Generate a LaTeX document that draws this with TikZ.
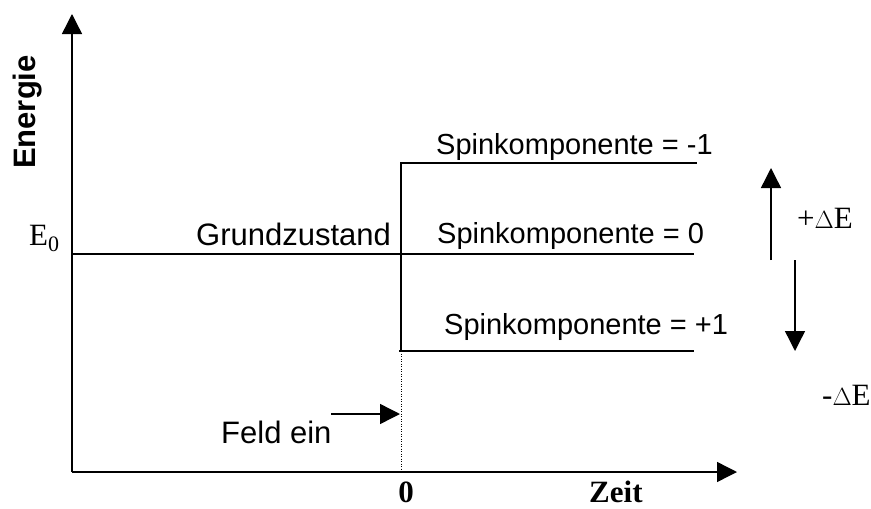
\documentclass[tikz,border=0pt]{standalone}
\usepackage{fontspec}
\setmainfont{Liberation Serif}
\setsansfont{Liberation Sans}
\usetikzlibrary{arrows.meta}
\tikzset{
  axisline/.style={line width=1.4pt, -{Triangle[length=20pt,width=20pt]}},
  levelline/.style={line width=1.4pt},
  arrowline/.style={line width=1.4pt, -{Triangle[length=20pt,width=20pt]}},
  txt/.style={inner sep=0pt, anchor=base west, font=\sffamily\fontsize{29}{33}\selectfont},
  bigtxt/.style={inner sep=0pt, anchor=base west, font=\sffamily\fontsize{31}{35}\selectfont},
  sym/.style={inner sep=0pt, anchor=base west, font=\rmfamily\fontsize{31}{35}\selectfont},
  bsym/.style={inner sep=0pt, anchor=base, font=\rmfamily\bfseries\fontsize{31}{35}\selectfont}
}
\begin{document}
\begin{tikzpicture}[x=1pt, y=-1pt]
  \useasboundingbox (0,0) rectangle (871,509);
  % axes
  \coordinate (O) at (72,472);
  \coordinate (ytip) at (72,14);
  \coordinate (xtip) at (737,472);
  \draw[axisline] (O) -- (ytip);
  \draw[axisline] (O) -- (xtip);
  \node[inner sep=0pt, anchor=base, rotate=90, font=\sffamily\bfseries\fontsize{31}{35}\selectfont] (en) at (35,112) {Energie};
  % level points
  \coordinate (g0) at (72,254);
  \coordinate (g1) at (694,254);
  \coordinate (s) at (401,163);
  \coordinate (m) at (401,351);
  \coordinate (t0) at (401,472);
  \coordinate (a1) at (697,163);
  \coordinate (c0) at (399,351);
  \coordinate (c1) at (694,351);
  \draw[levelline] (g0) -- (g1);
  \draw[levelline] (m) -- (s) -- (a1);
  \draw[levelline] (c0) -- (c1);
  \draw[line width=1pt, dash pattern=on 1pt off 1.5pt] (m) -- (t0);
  % labels
  \node[sym] (e0) at (29,245) {E\textsubscript{\fontsize{22}{24}\selectfont 0}};
  \node[bigtxt] (gz) at (196,245) {Grundzustand};
  \node[txt] (sm) at (436,154) {Spinkomponente = -1};
  \node[txt] (sz) at (437,243) {Spinkomponente = 0};
  \node[txt] (sp) at (444,334) {Spinkomponente = +1};
  % energy shift arrows
  \coordinate (u0) at (771,260);
  \coordinate (u1) at (771,168);
  \coordinate (d0) at (795,260);
  \coordinate (d1) at (795,351);
  \draw[arrowline] (u0) -- (u1);
  \draw[arrowline] (d0) -- (d1);
  \node[sym] (pe) at (797,228) {+$\Delta$E};
  \node[sym] (me) at (822,405) {-$\Delta$E};
  % field switched on
  \node[bigtxt] (fe) at (221,443) {Feld ein};
  \coordinate (f0) at (331,414);
  \coordinate (f1) at (400,414);
  \draw[arrowline] (f0) -- (f1);
  \node[bsym] (zero) at (406,502) {0};
  \node[bsym, anchor=base west] (zeit) at (589,502) {Zeit};
\end{tikzpicture}
\end{document}
